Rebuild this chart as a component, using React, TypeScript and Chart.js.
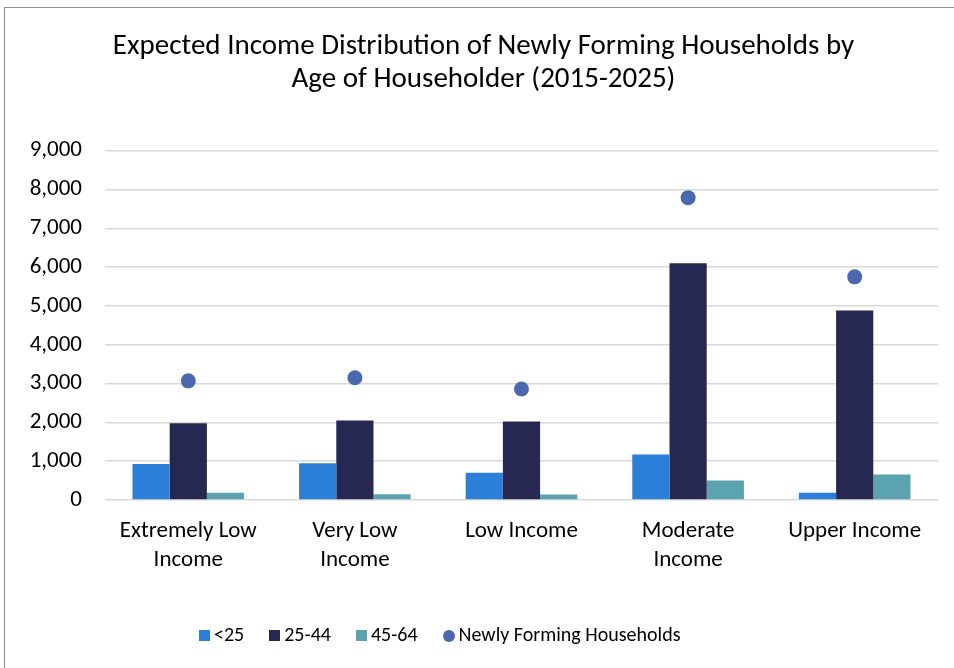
import React, { useEffect, useRef } from "react";
import { Chart, registerables } from "chart.js";

Chart.register(...registerables);

const categories = [["Extremely Low", "Income"], ["Very Low", "Income"], ["Low Income"], ["Moderate", "Income"], ["Upper Income"]];
const under25 = [930, 950, 700, 1170, 190];
const age25to44 = [1980, 2050, 2020, 6100, 4880];
const age45to64 = [190, 150, 140, 500, 660];
const newlyForming = [3070, 3150, 2860, 7790, 5750];
const titleLines = ["Expected Income Distribution of Newly Forming Households by", "Age of Householder (2015-2025)"];
const seriesNames = ["<25", "25-44", "45-64", "Newly Forming Households"];
const seriesColors = ["#2B7FD8", "#262852", "#5BA3AE", "#4A68B0"];

const FONT = "Carlito, Calibri, 'Open Sans', sans-serif";

export default function App() {
  const ref = useRef<HTMLCanvasElement | null>(null);
  useEffect(() => {
    document.body.style.margin = "0";
    const ctx = ref.current!;
    const chart = new Chart(ctx, {
      type: "bar",
      data: {
        labels: categories as any,
        datasets: [
          { type: "bar", label: seriesNames[0], data: under25, backgroundColor: seriesColors[0], borderWidth: 0, categoryPercentage: 0.67, barPercentage: 1.0 } as any,
          { type: "bar", label: seriesNames[1], data: age25to44, backgroundColor: seriesColors[1], borderWidth: 0, categoryPercentage: 0.67, barPercentage: 1.0 } as any,
          { type: "bar", label: seriesNames[2], data: age45to64, backgroundColor: seriesColors[2], borderWidth: 0, categoryPercentage: 0.67, barPercentage: 1.0 } as any,
          { type: "line", label: seriesNames[3], data: newlyForming, showLine: false, pointStyle: "circle", pointRadius: 7.5, pointHoverRadius: 7.5, backgroundColor: seriesColors[3], borderColor: seriesColors[3], borderWidth: 0 } as any,
        ],
      },
      options: {
        animation: false,
        responsive: false,
        maintainAspectRatio: false,
        layout: { padding: { left: 29, right: 16, top: 20, bottom: 98 } },
        plugins: {
          title: {
            display: true,
            text: titleLines,
            color: "#000",
            font: { family: FONT, size: 29, weight: "normal" as any, lineHeight: 1.15 },
            padding: { top: 10, bottom: 54 },
          },
          legend: { display: false },
          tooltip: { enabled: false },
        },
        scales: {
          x: {
            grid: { display: false },
            border: { display: false },
            ticks: { color: "#000", font: { family: FONT, size: 23, lineHeight: 1.25 }, maxRotation: 0, padding: 9 },
            afterFit: (s: any) => { s.height = 70; },
          },
          y: {
            min: 0,
            max: 9000,
            ticks: {
              stepSize: 1000,
              color: "#000",
              padding: 23,
              font: { family: FONT, size: 23 },
              callback: (v: any) => Number(v).toLocaleString("en-US"),
            },
            grid: { color: "#d9d9d9", lineWidth: 1.5, drawTicks: false },
            border: { display: false },
            afterFit: (s: any) => { s.width = 76; },
          },
        },
      },
    });
    return () => chart.destroy();
  }, []);
  return (
    <div style={{ position: "relative", width: 954, height: 668, overflow: "hidden", background: "#fff" }}>
      <div style={{ position: "absolute", left: 4, top: 7, width: 1000, height: 1000, border: "1.5px solid #8c8c8c", boxSizing: "border-box" }} />
      <canvas ref={ref} width={954} height={668} style={{ position: "absolute", left: 0, top: 0 }} />
      <div style={{ position: "absolute", left: 199, top: 620, height: 28, display: "flex", alignItems: "center", fontFamily: FONT, fontSize: 20, color: "#000", whiteSpace: "nowrap" }}>
        {seriesNames.map((n, i) => (
          <div key={n} style={{ display: "flex", alignItems: "center", marginRight: 25 }}>
            <span style={{ display: "inline-block", width: i === 3 ? 12 : 11, height: i === 3 ? 12 : 11, borderRadius: i === 3 ? "50%" : 0, background: seriesColors[i], marginRight: 4, marginTop: 3 }} />
            <span>{n}</span>
          </div>
        ))}
      </div>
    </div>
  );
}
